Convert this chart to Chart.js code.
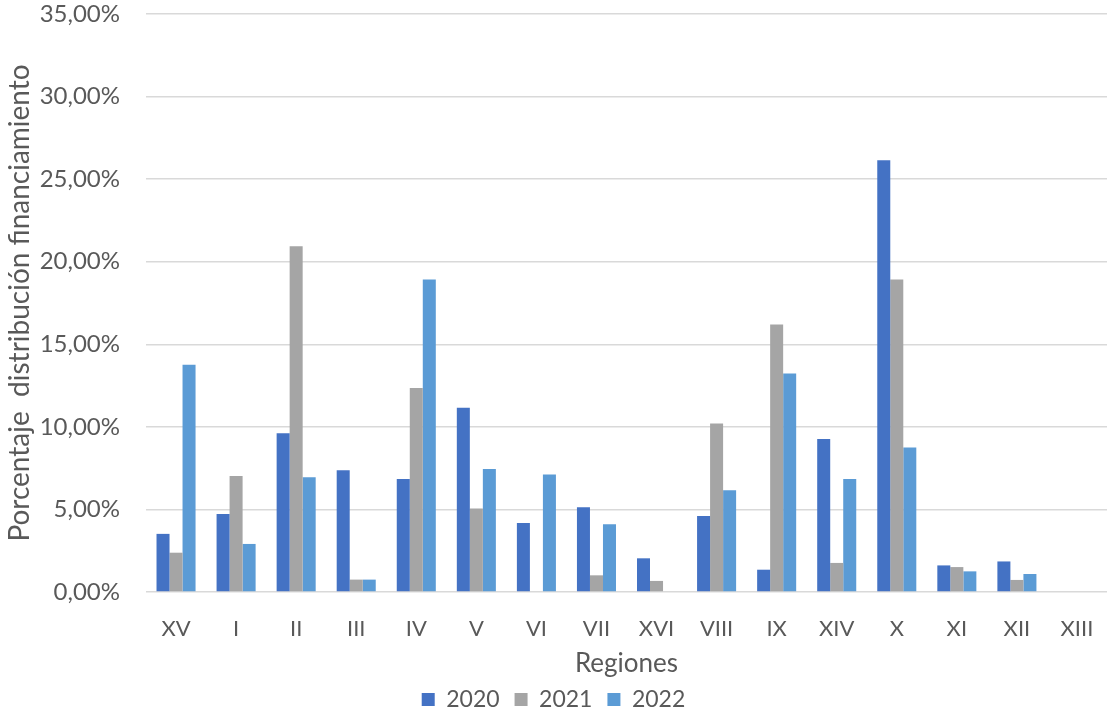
<!DOCTYPE html>
<html>
<head>
<meta charset="utf-8">
<script src="https://cdn.jsdelivr.net/npm/chart.js@4"></script>
<style>
  html, body { margin: 0; padding: 0; background: #fff; }
  #wrap { width: 1108px; height: 713px; }
</style>
</head>
<body>
<div id="wrap"><canvas id="chart"></canvas></div>
<script>
const regiones = ['XV', 'I', 'II', 'III', 'IV', 'V', 'VI', 'VII', 'XVI', 'VIII', 'IX', 'XIV', 'X', 'XI', 'XII', 'XIII'];
const datos2020 = [3.52, 4.73, 9.61, 7.37, 6.85, 11.15, 4.18, 5.13, 2.04, 4.60, 1.35, 9.27, 26.15, 1.61, 1.85, 0];
const datos2021 = [2.38, 7.03, 20.94, 0.75, 12.36, 5.05, 0, 1.01, 0.67, 10.20, 16.20, 1.76, 18.93, 1.51, 0.73, 0];
const datos2022 = [13.76, 2.91, 6.95, 0.75, 18.93, 7.45, 7.11, 4.10, 0, 6.16, 13.23, 6.85, 8.75, 1.25, 1.09, 0];
const yTicks = [0, 5, 10, 15, 20, 25, 30, 35];

const fuente = 'Lato, "Open Sans", sans-serif';
const gris = '#595959';

// formato con coma decimal, como en el original
const pct = v => v.toFixed(2).replace('.', ',') + '%';

const ctx = document.getElementById('chart').getContext('2d');
new Chart(ctx, {
  type: 'bar',
  data: {
    labels: regiones,
    datasets: [
      { label: '2020', data: datos2020, backgroundColor: '#4472C4' },
      { label: '2021', data: datos2021, backgroundColor: '#A5A5A5' },
      { label: '2022', data: datos2022, backgroundColor: '#5B9BD5' }
    ]
  },
  options: {
    responsive: true,
    maintainAspectRatio: false,
    animation: false,
    layout: { padding: { top: 14, right: 1, left: 0, bottom: -8 } },
    datasets: { bar: { categoryPercentage: 0.65, barPercentage: 1.0 } },
    plugins: {
      tooltip: { enabled: false },
      legend: {
        position: 'bottom',
        labels: {
          color: gris,
          font: { family: fuente, size: 23 },
          boxWidth: 13,
          boxHeight: 13,
          padding: 15
        }
      }
    },
    scales: {
      x: {
        afterFit: axis => {
          axis.height = 81;
          axis.paddingLeft = 0;
          axis.paddingRight = 0;
        },
        grid: { display: false, drawTicks: false },
        border: { display: false },
        ticks: { color: gris, font: { family: fuente, size: 22 }, padding: 24 },
        title: {
          display: true,
          text: 'Regiones',
          color: gris,
          font: { family: fuente, size: 26 },
          padding: { top: 0, bottom: -6 }
        }
      },
      y: {
        min: 0,
        max: 35,
        afterBuildTicks: axis => { axis.ticks = yTicks.map(v => ({ value: v })); },
        afterFit: axis => {
          axis.width = 146;
          axis.paddingTop = 0;
          axis.paddingBottom = 0;
        },
        grid: { color: '#d9d9d9', lineWidth: 1.5, drawTicks: false },
        border: { display: false },
        ticks: {
          color: gris,
          font: { family: fuente, size: 24 },
          padding: 26,
          callback: v => pct(v)
        },
        title: {
          display: true,
          text: 'Porcentaje  distribución financiamiento',
          color: gris,
          font: { family: fuente, size: 28 },
          padding: { top: 3, bottom: 0 }
        }
      }
    }
  }
});
</script>
</body>
</html>
